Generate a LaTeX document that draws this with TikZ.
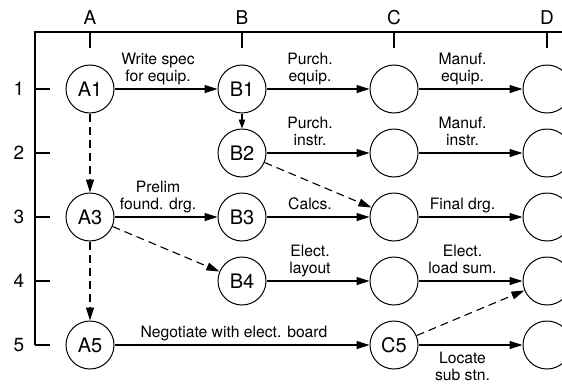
\documentclass[tikz,border=0pt]{standalone}
\usepackage{fontspec}
\setmainfont{TeX Gyre Heros}
\usetikzlibrary{arrows.meta}

\begin{document}
\begin{tikzpicture}[x=1pt,y=-1pt,
    evt/.style={draw,circle,minimum size=48pt,inner sep=0pt,line width=1pt,
      font=\fontsize{20}{22}\selectfont},
    act/.style={line width=1.1pt,-{Triangle[length=13pt,width=8pt]}},
    dummy/.style={act,dash pattern=on 8pt off 5pt},
    lbl/.style={font=\fontsize{15.7}{17}\selectfont,align=center,
      inner sep=3pt,text depth=3.5pt,xshift=-8pt},
    frameline/.style={line width=1.1pt},
    axis/.style={font=\fontsize{19}{21}\selectfont}]
  \useasboundingbox (0,0) rectangle (562,383);
  \clip (0,0) rectangle (562,383);

  % frame with column and row ticks
  \draw[frameline] (562,32) -- (35,32) -- (35,345);
  \foreach \x/\c in {90/A,242/B,394/C,547/D} {
    \draw[frameline] (\x,32) -- (\x,48);
    \node[axis] (col\c) at (\x,18) {\c};
  }
  \foreach \y/\r in {89/1,153/2,217/3,281/4,345/5} {
    \draw[frameline] (35,\y) -- (50,\y);
    \node[axis] (row\r) at (19,\y) {\r};
  }

  % events
  \node[evt] (a1) at (90,89) {A1};
  \node[evt] (b1) at (242,89) {B1};
  \node[evt] (c1) at (394,89) {};
  \node[evt] (d1) at (547,89) {};
  \node[evt] (b2) at (242,153) {B2};
  \node[evt] (c2) at (394,153) {};
  \node[evt] (d2) at (547,153) {};
  \node[evt] (a3) at (90,217) {A3};
  \node[evt] (b3) at (242,217) {B3};
  \node[evt] (c3) at (394,217) {};
  \node[evt] (d3) at (547,217) {};
  \node[evt] (b4) at (242,281) {B4};
  \node[evt] (c4) at (394,281) {};
  \node[evt] (d4) at (547,281) {};
  \node[evt] (a5) at (90,345) {A5};
  \node[evt] (c5) at (394,345) {C5};
  \node[evt] (d5) at (547,345) {};

  % activities
  \draw[act] (a1) -- node[lbl,above] {Write spec\\for equip.} (b1);
  \draw[act] (b1) -- node[lbl,above] {Purch.\\equip.} (c1);
  \draw[act] (c1) -- node[lbl,above] {Manuf.\\equip.} (d1);
  \draw[act,-{Triangle[length=9pt,width=6.5pt]}] (b1) -- (b2);
  \draw[act] (b2) -- node[lbl,above] {Purch.\\instr.} (c2);
  \draw[act] (c2) -- node[lbl,above] {Manuf.\\instr.} (d2);
  \draw[act] (a3) -- node[lbl,above] {Prelim\\found. drg.} (b3);
  \draw[act] (b3) -- node[lbl,above] {Calcs.} (c3);
  \draw[act] (c3) -- node[lbl,above] {Final drg.} (d3);
  \draw[act] (b4) -- node[lbl,above] {Elect.\\layout} (c4);
  \draw[act] (c4) -- node[lbl,above] {Elect.\\load sum.} (d4);
  \draw[act] (a5) -- node[lbl,above] {Negotiate with elect. board} (c5);
  \draw[act] (c5) -- node[lbl,below,yshift=-3pt] {Locate\\sub stn.} (d5);

  % dummies
  \draw[dummy] (a1) -- (a3);
  \draw[dummy] (a3) -- (a5);
  \draw[dummy] (b2) -- (c3);
  \draw[dummy] (a3) -- (b4);
  \draw[dummy] (c5) -- (d4);
\end{tikzpicture}
\end{document}
